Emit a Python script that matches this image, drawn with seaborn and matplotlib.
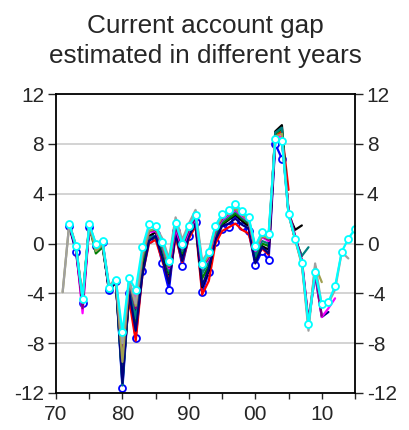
# current account gap vintages --> one line per estimation year
import numpy as np
import pandas as pd
import matplotlib
matplotlib.use('Agg')
import matplotlib.pyplot as plt
import seaborn as sns

# data (values in % of GDP), each vintage has its own start year
title = "Current account gap\nestimated in different years"

blue_start = 1972
blue_vals = [1.4, -0.67, -4.8, 1.3, -0.2, 0.1, -3.7, -3.0, -11.6, -4.0, -7.55, -2.2, 0.4, 0.8, -1.6,
             -3.75, 1.0, -1.8, 0.6, 1.7, -3.9, -2.3, 0.1, 1.2, 1.3, 1.9, 1.4, 1.0, -1.74, -0.6, -1.34,
             8.0, 6.8]

red_start = 1972
red_vals = [1.4, -0.4, -4.6, 1.4, -0.3, 0.0, -3.8, -3.1, -10.5, -4.5, -7.8, -2.5, 0.0, 0.3, -1.4,
            -3.0, 0.5, -1.5, 0.4, 1.4, -4.1, -3.0, 0.0, 1.0, 1.3, 1.6, 1.1, 0.8, -1.4, -0.4, -0.9,
            8.6, 9.0, 4.3]

black_start = 1972
black_vals = [1.4, -0.3, -4.6, 1.4, -0.4, 0.0, -3.9, -3.0, -10.8, -4.2, -5.6, -1.8, 0.6, 0.9, -0.8,
              -2.5, 0.9, -1.0, 0.8, 1.7, -3.5, -2.2, 0.4, 1.5, 1.9, 2.3, 1.8, 1.4, -1.5, -0.2, -0.5,
              9.0, 9.5, 2.3, 1.1, 1.45]

green_start = 1972
green_vals = [1.5, -0.3, -4.5, 1.4, -0.8, -0.3, -3.6, -3.0, -11.0, -3.8, -6.5, -1.5, 0.3, 0.5, -0.5,
              -2.4, 0.8, -0.8, 0.7, 1.6, -2.8, -1.8, 0.6, 1.6, 2.0, 2.4, 2.0, 1.6, -1.2, 0.0, -0.2,
              8.8, 9.2, 2.5, 0.3, -1.0]

teal_start = 1972
teal_vals = [1.5, -0.2, -4.5, 1.5, -0.6, -0.2, -3.7, -2.9, -11.4, -3.5, -6.0, -1.2, 0.5, 0.6, -0.4,
             -2.2, 1.0, -0.6, 0.9, 1.8, -2.4, -1.5, 0.8, 1.8, 2.2, 2.6, 2.1, 1.7, -1.0, 0.2, 0.0,
             8.9, 9.3, 2.4, 0.3, -1.0, -0.3]

magenta_start = 1972
magenta_vals = [1.5, -0.3, -5.6, 1.3, -0.2, 0.1, -3.6, -2.9, -8.5, -3.2, -4.5, -0.9, 0.9, 1.0, -0.1,
                -2.0, 1.2, -0.4, 1.0, 2.0, -2.0, -1.2, 1.0, 1.9, 2.3, 2.7, 2.2, 1.8, -0.6, 0.5, 0.2,
                8.5, 8.6, 2.6, 0.5, -1.4, -6.3, -2.4, -5.9, -5.2, -4.4]

navy_start = 1972
navy_vals = [1.4, -0.5, -4.7, 1.3, -0.3, 0.0, -3.9, -3.0, -11.2, -3.9, -7.0, -2.6, 0.2, 0.6, -1.2,
             -3.2, 0.8, -1.4, 0.6, 1.6, -3.4, -2.0, 0.3, 1.4, 1.6, 2.0, 1.5, 1.2, -1.6, -0.3, -0.8,
             8.2, 8.4, 2.4, 0.4, -1.5, -6.4, -2.5, -5.9, -5.5]

olive_start = 1971
olive_vals = [-3.9, 1.6, -0.2, -4.4, 1.5, -0.6, -0.1, -3.5, -2.9, -9.5, -3.0, -5.0, -1.0, 1.0, 1.2,
              0.0, -1.8, 1.8, 0.0, 1.3, 2.6, -1.8, -1.0, 1.2, 2.1, 2.4, 2.8, 2.3, 1.9, -0.5, 0.6,
              0.4, 8.6, 8.8, 2.4, 0.3, -1.7, -6.6, -1.8, -3.1]

gray_start = 1971
gray_vals = [-3.9, 1.6, -0.1, -4.4, 1.6, -0.1, 0.2, -3.4, -2.8, -8.0, -2.9, -4.8, -0.6, 1.3, 1.4,
             0.4, -1.2, 2.1, 0.3, 1.6, 2.7, -1.4, -0.6, 1.4, 2.3, 2.6, 3.0, 2.5, 2.0, -0.3, 0.8,
             0.7, 8.4, 8.4, 2.3, 0.3, -1.6, -7.0, -1.6, -5.0, -4.8, -3.7, -0.7, -1.2]

purple_start = 1972
purple_vals = [1.5, -0.3, -5.2, 1.4, -0.1, 0.1, -3.6, -2.9, -9.0, -3.1, -5.2, -1.0, 1.0, 1.1, 0.0,
               -1.9, 1.4, -0.2, 1.1, 2.1, -1.9, -1.1, 1.1, 2.0, 2.4, 2.8, 2.3, 1.9, -0.4, 0.6, 0.3,
               8.3, 8.3, 2.7, 0.6, -1.3, -6.2, -2.3, -5.8]

cyan_start = 1972
cyan_vals = [1.55, -0.2, -4.47, 1.55, 0.0, 0.2, -3.56, -2.9, -7.14, -2.8, -3.7, -0.32, 1.55, 1.39,
             0.13, -1.39, 1.65, 0.0, 1.39, 2.27, -1.63, -0.67, 1.41, 2.35, 2.67, 3.15, 2.6, 2.09,
             -0.22, 0.93, 0.8, 8.35, 8.2, 2.33, 0.4, -1.55, -6.5, -2.28, -4.87, -4.68, -3.43,
             -0.67, 0.4, 1.15]

y_ticks = [-12, -8, -4, 0, 4, 8, 12]
x_major = [1970, 1980, 1990, 2000, 2010]
x_labels = ['70', '80', '90', '00', '10']
x_minor = [1975, 1985, 1995, 2005, 2015]

# draw order, colour, markers
vintages = [
    (blue_start, blue_vals, '#0000ff', True),
    (red_start, red_vals, '#ff0000', False),
    (black_start, black_vals, '#000000', False),
    (green_start, green_vals, '#008000', False),
    (teal_start, teal_vals, '#008080', False),
    (navy_start, navy_vals, '#000080', False),
    (magenta_start, magenta_vals, '#ff00ff', False),
    (purple_start, purple_vals, '#800080', False),
    (olive_start, olive_vals, '#a0a050', False),
    (gray_start, gray_vals, '#a0a0a0', False),
    (cyan_start, cyan_vals, '#00ffff', True),
]

sns.set_style("white")
plt.rcParams['font.family'] = ['Liberation Sans', 'DejaVu Sans']

fig = plt.figure(figsize=(4.1, 4.3), dpi=100)
ax = fig.add_axes([56 / 410, 37 / 430, 299 / 410, 299 / 430])

for start, vals, col, mark in vintages:
    df = pd.DataFrame({'year': np.arange(start, start + len(vals)), 'gap': vals})
    kw = {}
    if mark:
        kw = dict(marker='o', markersize=5, markerfacecolor='white',
                  markeredgecolor=col, markeredgewidth=1.3)
    sns.lineplot(data=df, x='year', y='gap', color=col, lw=1.6, estimator=None,
                 errorbar=None, ax=ax, **kw)

ax.set_xlim(1970, 2015)
ax.set_ylim(-12, 12)
ax.set_yticks(y_ticks)
ax.set_yticklabels([str(t) for t in y_ticks])
ax.set_xticks(x_major)
ax.set_xticklabels(x_labels)
ax.set_xticks(x_minor, minor=True)
ax.set_xlabel('')
ax.set_ylabel('')

ax.yaxis.grid(True, color='#c8c8c8', lw=1.1)
ax.xaxis.grid(False)
for s in ax.spines.values():
    s.set_color('black')
    s.set_linewidth(1.3)

ax.tick_params(axis='y', which='both', left=True, right=True, labelleft=True, labelright=True,
               direction='out', length=5.5, width=1, labelsize=15, pad=3)
ax.tick_params(axis='x', which='both', bottom=True, direction='out', length=4.5, width=1,
               labelsize=15, pad=4)

ax.set_title(title, fontsize=18.8, linespacing=1.35, pad=22)

plt.savefig('out.png', dpi=100)
